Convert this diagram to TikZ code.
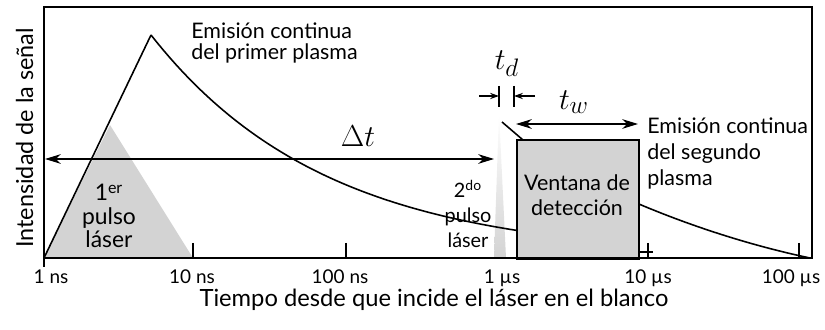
\documentclass[tikz,border=0pt]{standalone}
\usepackage{fontspec}
\setmainfont{Lato}
\usetikzlibrary{positioning, arrows.meta}
\definecolor{PulseGray}{HTML}{D3D3D3}

\begin{document}
\begin{tikzpicture}[x=0.02cm, y=-0.02cm,
  txt/.style={font=\fontsize{12.2}{12}\selectfont, inner sep=0pt},
  small/.style={font=\fontsize{10.8}{13}\selectfont, inner sep=0pt},
  mth/.style={font=\fontsize{17}{20}\selectfont, inner sep=0pt},
  ln/.style={line width=0.9pt},
  dim/.style={line width=0.8pt, {Stealth[length=9pt, width=5.5pt]}-{Stealth[length=9pt, width=5.5pt]}},
  gap/.style={line width=0.8pt, -{Stealth[length=5pt, width=3.5pt]}},
]
  \useasboundingbox (0,0) rectangle (825,330);

  % pulses
  \fill[PulseGray] (44,258) -- (110,125) -- (193,258) -- cycle;
  \shade[top color=white, bottom color=PulseGray] (494,258) -- (499,112) -- (506,258) -- cycle;

  % emission of the plasmas
  \draw[ln] (44,258) -- (151,35);
  \draw[ln] plot[domain=151:516, samples=60] (\x, {258-223*exp(-(\x-151)/175)});
  \draw[ln] (502,122) -- (523,140) .. controls (580,185) and (700,235) .. (810,258);

  % detection window
  \node[draw, ln, fill=PulseGray, minimum width=122*0.02cm, minimum height=119*0.02cm,
        anchor=north west, inner sep=0pt] (win) at (516,139) {};
  \node[txt, font=\fontsize{12.2}{14.2}\selectfont, align=center, anchor=north] (winlbl) at (577,174) {Ventana de\\detección};

  % frame and ticks
  \draw[ln] (44,7) rectangle (812,258);
  \foreach \x in {193,346,648,799} \draw[ln] (\x,243) -- (\x,258);
  \draw[ln] (44,258) -- (44,267);
  \draw[ln] (638,252) -- (653,252);
  \foreach \x/\lab in {51/{1 ns}, 192/{10 ns}, 340/{100 ns}, 502/{1 µs}, 648/{10 µs}, 791/{100 µs}}
    \node[small, anchor=base] at (\x,284) {\lab};

  % time intervals
  \coordinate (dtL) at (45,159);
  \coordinate (dtR) at (494,159);
  \draw[dim] (dtL) -- (dtR);
  \node[mth] (dt) at (358,136) {$\Delta t$};

  \coordinate (tdA) at (499,86);
  \coordinate (tdB) at (514,86);
  \draw[ln] (tdA) -- ++(0,21);
  \draw[ln] (tdB) -- ++(0,21);
  \draw[gap] ([xshift=-20*0.02cm, yshift=-10*0.02cm]tdA) -- ([yshift=-10*0.02cm]tdA);
  \draw[gap] ([xshift=21*0.02cm, yshift=-10*0.02cm]tdB) -- ([yshift=-10*0.02cm]tdB);
  \node[mth, font=\fontsize{19}{22}\selectfont] (td) at (507,64) {$t_d$};

  \coordinate (twL) at (516,124);
  \coordinate (twR) at (638,124);
  \draw[dim] (twL) -- (twR);
  \node[mth, font=\fontsize{19}{22}\selectfont] (tw) at (574,102) {$t_w$};

  % labels
  \node[txt, align=left, anchor=north west] (emis1) at (191,22) {Emisión continua\\del primer plasma};
  \node[txt, font=\fontsize{13}{13.4}\selectfont, align=center, anchor=north] (pulse1) at (109,184) {1\textsuperscript{er}\\pulso\\láser};
  \node[txt, font=\fontsize{11.3}{14.2}\selectfont, align=center, anchor=north] (pulse2) at (468,180) {2\textsuperscript{do}\\pulso\\láser};
  \node[txt, font=\fontsize{12.2}{15}\selectfont, align=left, anchor=north west] (emis2) at (647,117) {Emisión continua\\del segundo\\plasma};
  \node[txt, font=\fontsize{13.5}{16}\selectfont, anchor=base] (xlab) at (434,307) {Tiempo desde que incide el láser en el blanco};
  \node[txt, font=\fontsize{13.3}{15}\selectfont, rotate=90, anchor=base] (ylab) at (33,138) {Intensidad de la señal};
\end{tikzpicture}
\end{document}
